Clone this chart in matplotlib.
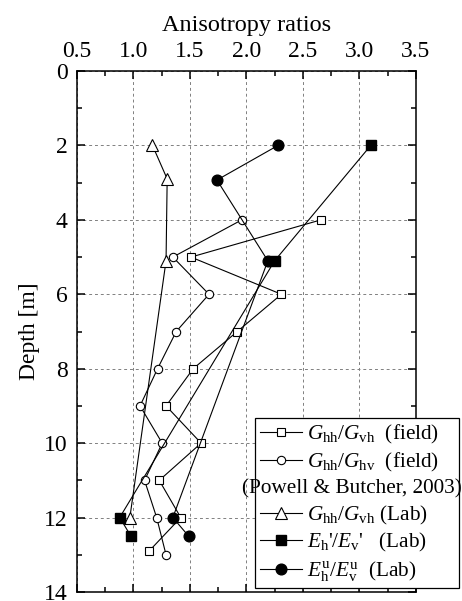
import matplotlib
matplotlib.use('Agg')
import matplotlib.pyplot as plt
from matplotlib.lines import Line2D
from matplotlib.ticker import MultipleLocator

FONT = 'Liberation Serif'
plt.rcParams['font.family'] = [FONT]
plt.rcParams['mathtext.fontset'] = 'custom'
plt.rcParams['mathtext.rm'] = FONT
plt.rcParams['mathtext.it'] = FONT + ':italic'

# G_hh/G_vh field
sq_depth = [4, 5, 6, 7, 8, 9, 10, 11, 12, 12.9]
sq_ratio = [2.66, 1.51, 2.31, 1.92, 1.53, 1.29, 1.60, 1.23, 1.42, 1.14]
# G_hh/G_hv field
ci_depth = [4, 5, 6, 7, 8, 9, 10, 11, 12, 13]
ci_ratio = [1.96, 1.35, 1.67, 1.38, 1.215, 1.06, 1.256, 1.10, 1.207, 1.29]
# G_hh/G_vh lab
tri_depth = [2, 2.9, 5.1, 12]
tri_ratio = [1.17, 1.30, 1.29, 0.97]
# E_h'/E_v' lab
fsq_depth = [2, 5.1, 12, 12.5]
fsq_ratio = [3.10, 2.25, 0.88, 0.98]
# E_h^u/E_v^u lab
fci_depth = [2, 2.93, 5.1, 12, 12.5]
fci_ratio = [2.28, 1.74, 2.19, 1.35, 1.49]

W, H = 462, 601
fig = plt.figure(figsize=(W / 100, H / 100), dpi=100)
ax = fig.add_axes([76.7 / W, 1 - 592 / H, 339.3 / W, 521 / H])

lw = 0.8
ax.plot(sq_ratio, sq_depth, '-s', color='k', lw=lw, ms=5.4, mfc='white', mec='k', mew=0.8,
        label=r'$G_{\rm hh}/G_{\rm vh}$  (field)')
ax.plot(ci_ratio, ci_depth, '-o', color='k', lw=lw, ms=6, mfc='white', mec='k', mew=0.8,
        label=r'$G_{\rm hh}/G_{\rm hv}$  (field)')
ax.plot(tri_ratio, tri_depth, '-^', color='k', lw=lw, ms=8.5, mfc='white', mec='k', mew=0.8,
        label=r'$G_{\rm hh}/G_{\rm vh}$ (Lab)')
ax.plot(fsq_ratio, fsq_depth, '-s', color='k', lw=lw, ms=6.7, mfc='k', mec='k',
        label=r"$E_{\rm h}$'/$E_{\rm v}$'   (Lab)")
ax.plot(fci_ratio, fci_depth, '-o', color='k', lw=lw, ms=7.7, mfc='k', mec='k',
        label=r'$E_{\rm h}^{\rm u}/E_{\rm v}^{\rm u}$  (Lab)')

ax.set_xlim(0.5, 3.5)
ax.set_ylim(14, 0)
ax.xaxis.set_major_locator(MultipleLocator(0.5))
ax.xaxis.set_minor_locator(MultipleLocator(0.25))
ax.yaxis.set_major_locator(MultipleLocator(2))
ax.yaxis.set_minor_locator(MultipleLocator(1))
ax.xaxis.set_major_formatter(plt.FormatStrFormatter('%.1f'))
ax.xaxis.tick_top()
ax.xaxis.set_label_position('top')
ax.tick_params(which='both', direction='in', top=True, bottom=True, left=True, right=True,
               labeltop=True, labelbottom=False, labelsize=17, width=1.1)
ax.tick_params(axis='x', pad=6.5)
ax.tick_params(axis='y', pad=6.5)
ax.tick_params(which='major', length=6)
ax.tick_params(which='minor', length=3.5)
for lab in ax.get_xticklabels() + ax.get_yticklabels():
    lab.set_fontfamily(FONT)
ax.grid(True, which='major', ls=(0, (3, 3)), color='gray', lw=0.7)
for s in ax.spines.values():
    s.set_linewidth(1.1)

ax.set_xlabel('Anisotropy ratios', fontsize=17.5, labelpad=7, fontfamily=FONT)
ax.set_ylabel('Depth [m]', fontsize=17, labelpad=3, fontfamily=FONT)

handles, labels = ax.get_legend_handles_labels()
blank = Line2D([], [], ls='none', marker='none')
handles = handles[:2] + [blank] + handles[2:]
labels = labels[:2] + [' '] + labels[2:]
lx0 = (255 - 76.7) / 339.3
lw_ax = (459 - 255) / 339.3
ly0 = (592 - 588) / 521
leg = ax.legend(handles, labels, loc='lower left', bbox_to_anchor=(lx0, ly0, lw_ax, 0.3),
                mode='expand', borderaxespad=0, fontsize=15.3, fancybox=False, edgecolor='k',
                framealpha=1, shadow=False, handlelength=2.0, handletextpad=0.25,
                labelspacing=0.23, borderpad=0.22, prop={'family': FONT, 'size': 15.3})
leg.get_frame().set_linewidth(0.9)

fig.canvas.draw()
inv = fig.transFigure.inverted()
t1 = leg.get_texts()[1].get_window_extent()
t3 = leg.get_texts()[3].get_window_extent()
ymid = (t1.y0 + t3.y1) / 2.0
x0, y0 = inv.transform((351.5, ymid))
fig.text(x0, y0, '(Powell & Butcher, 2003)', fontsize=15.3, va='center', ha='center',
         fontfamily=FONT, zorder=10)

fig.savefig('out.png', dpi=100)
